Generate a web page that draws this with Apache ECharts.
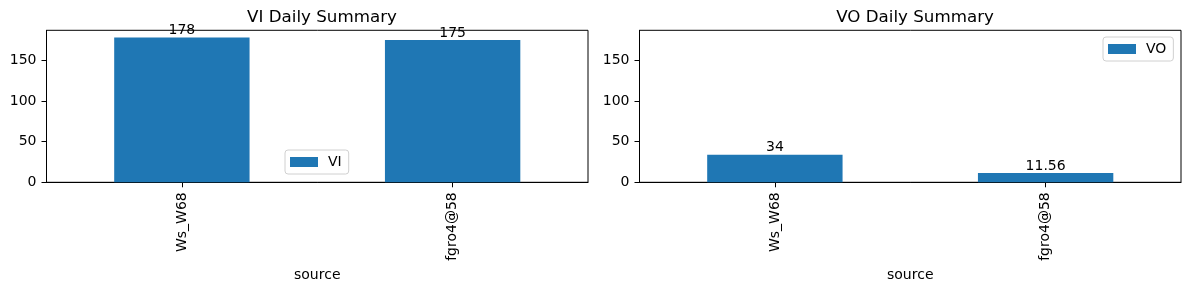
<!DOCTYPE html>
<html><head><meta charset="utf-8">
<script src="https://cdn.jsdelivr.net/npm/echarts@6/dist/echarts.min.js"></script>
<style>html,body{margin:0;padding:0;background:#fff}#c{width:1189px;height:290px}</style>
</head><body><div id="c"></div>
<script>
const categories = ['Ws_W68', 'fgro4@58'];
const viValues = [178, 175];
const voValues = [34, 11.56];
const yTicks = [0, 50, 100, 150];
const yMax = 186.9;

const font = 'DejaVu Sans';
const color = '#1f77b4';
const chart = echarts.init(document.getElementById('c'));

function xAxis(idx) {
  return {
    type: 'category', gridIndex: idx, data: categories,
    boundaryGap: true,
    name: 'source', nameLocation: 'middle', nameGap: 83,
    nameTextStyle: {fontFamily: font, fontSize: 14, color: '#000'},
    axisLine: {show: true, lineStyle: {color: '#000', width: 1}},
    axisTick: {show: true, alignWithLabel: true, length: 5, lineStyle: {color: '#000'}},
    axisLabel: {rotate: 90, fontFamily: font, fontSize: 14, color: '#000', margin: 10, interval: 0},
    splitLine: {show: false}
  };
}
function yAxis(idx) {
  return {
    type: 'value', gridIndex: idx, min: 0, max: yMax,
    axisLine: {show: true, lineStyle: {color: '#000', width: 1}},
    axisTick: {show: true, length: 5, lineStyle: {color: '#000'}, customValues: yTicks},
    axisLabel: {fontFamily: font, fontSize: 14, color: '#000', margin: 10, customValues: yTicks},
    splitLine: {show: false}
  };
}
function legend(name, left, top) {
  return {
    data: [name], left: left, top: top, orient: 'vertical',
    icon: 'rect', itemWidth: 28, itemHeight: 10, itemGap: 5,
    padding: [5, 7, 5, 5],
    borderColor: '#d0d0d0', borderWidth: 1, borderRadius: 3,
    backgroundColor: 'rgba(255,255,255,0.8)',
    textStyle: {fontFamily: font, fontSize: 14, color: '#000', padding: [0, 0, 0, 5]}
  };
}
const labelCfg = {show: true, position: 'top', distance: 0, fontFamily: font, fontSize: 14, color: '#000'};

chart.setOption({
  animation: false,
  title: [
    {text: 'VI Daily Summary', left: 317, top: 4, textAlign: 'center',
     textStyle: {fontFamily: font, fontSize: 16.7, fontWeight: 'normal', color: '#000'}},
    {text: 'VO Daily Summary', left: 910, top: 4, textAlign: 'center',
     textStyle: {fontFamily: font, fontSize: 16.7, fontWeight: 'normal', color: '#000'}}
  ],
  grid: [
    {left: 46.5, top: 30.3, width: 541.5, height: 152, show: true, borderColor: '#000', borderWidth: 1, containLabel: false},
    {left: 639.5, top: 30.3, width: 541.5, height: 152, show: true, borderColor: '#000', borderWidth: 1, containLabel: false}
  ],
  xAxis: [xAxis(0), xAxis(1)],
  yAxis: [yAxis(0), yAxis(1)],
  legend: [legend('VI', 285, 150), legend('VO', 1103, 37)],
  series: [
    {name: 'VI', type: 'bar', xAxisIndex: 0, yAxisIndex: 0, data: viValues, barWidth: '50%',
     itemStyle: {color: color}, label: labelCfg},
    {name: 'VO', type: 'bar', xAxisIndex: 1, yAxisIndex: 1, data: voValues, barWidth: '50%',
     itemStyle: {color: color}, label: labelCfg}
  ]
});
</script></body></html>
